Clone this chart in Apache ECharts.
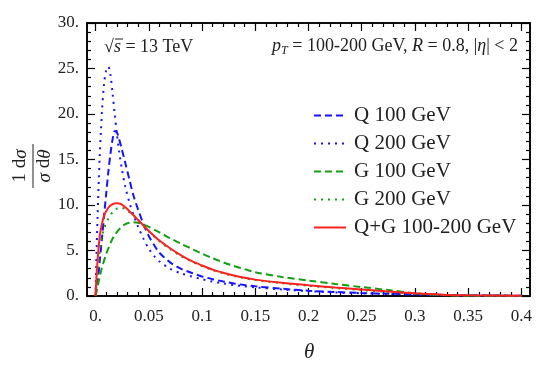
<!DOCTYPE html>
<html>
<head>
<meta charset="utf-8">
<script src="https://cdn.jsdelivr.net/npm/echarts@6/dist/echarts.min.js"></script>
<style>
html,body{margin:0;padding:0;background:#fff;}
#chart{width:540px;height:365px;}
</style>
</head>
<body>
<div id="chart"></div>
<script>
// ---- data ----
var thetaQ100 = [0, 0.002, 0.004, 0.006, 0.008, 0.01, 0.012, 0.014, 0.016, 0.018, 0.02, 0.022, 0.025, 0.028, 0.032, 0.036, 0.04, 0.045, 0.05, 0.055, 0.06, 0.07, 0.08, 0.09, 0.1, 0.11, 0.12, 0.13, 0.14, 0.15, 0.175, 0.2, 0.225, 0.25, 0.275, 0.3, 0.35, 0.4];
var valQ100   = [0, 1.5, 3.9, 6.3, 8.8, 11.2, 13.6, 15.6, 17.2, 18.1, 18.0, 17.3, 16.0, 14.6, 12.7, 10.9, 9.5, 7.9, 6.6, 5.6, 4.75, 3.7, 3.0, 2.55, 2.15, 1.85, 1.6, 1.38, 1.2, 1.06, 0.8, 0.58, 0.44, 0.33, 0.25, 0.18, 0.08, 0.03];

var thetaQ200 = [0, 0.001, 0.002, 0.003, 0.004, 0.005, 0.006, 0.008, 0.01, 0.012, 0.014, 0.016, 0.018, 0.02, 0.022, 0.025, 0.028, 0.032, 0.036, 0.04, 0.045, 0.05, 0.055, 0.06, 0.07, 0.08, 0.09, 0.1, 0.11, 0.12, 0.13, 0.14, 0.15, 0.175, 0.2, 0.225, 0.25, 0.275, 0.3, 0.35, 0.4];
var valQ200   = [0, 5, 9, 12.5, 15.5, 18, 20.2, 23.3, 24.8, 25.2, 24.3, 22.3, 20.0, 17.9, 16.0, 13.8, 12.0, 10.2, 8.8, 7.6, 6.3, 5.2, 4.4, 3.8, 3.0, 2.5, 2.15, 1.85, 1.58, 1.38, 1.2, 1.06, 0.95, 0.72, 0.53, 0.4, 0.3, 0.22, 0.16, 0.07, 0.03];

var thetaG100 = [0, 0.003, 0.006, 0.01, 0.014, 0.018, 0.022, 0.026, 0.03, 0.035, 0.04, 0.045, 0.05, 0.06, 0.07, 0.08, 0.09, 0.1, 0.11, 0.12, 0.13, 0.14, 0.15, 0.175, 0.2, 0.225, 0.25, 0.275, 0.3, 0.325, 0.35, 0.4];
var valG100   = [0, 1.6, 3.1, 4.6, 5.8, 6.7, 7.3, 7.75, 8.0, 8.1, 8.05, 7.85, 7.6, 7.0, 6.35, 5.75, 5.2, 4.65, 4.15, 3.7, 3.3, 2.95, 2.62, 2.1, 1.7, 1.32, 0.98, 0.65, 0.3, 0.1, 0.04, 0.01];

var thetaG200 = [0, 0.002, 0.004, 0.006, 0.008, 0.012, 0.016, 0.02, 0.024, 0.028, 0.032, 0.036, 0.04, 0.045, 0.05, 0.06, 0.07, 0.08, 0.09, 0.1, 0.11, 0.12, 0.13, 0.14, 0.15, 0.175, 0.2, 0.225, 0.25, 0.275, 0.3, 0.325, 0.35, 0.4];
var valG200   = [0, 2.6, 5.0, 6.5, 7.4, 8.5, 9.2, 9.6, 9.7, 9.55, 9.2, 8.8, 8.3, 7.7, 7.1, 6.0, 5.15, 4.4, 3.8, 3.3, 2.85, 2.5, 2.2, 1.96, 1.75, 1.4, 1.12, 0.88, 0.65, 0.44, 0.25, 0.11, 0.05, 0.01];

var thetaQG = [0, 0.001, 0.002, 0.004, 0.006, 0.008, 0.012, 0.016, 0.02, 0.024, 0.028, 0.032, 0.036, 0.04, 0.045, 0.05, 0.06, 0.07, 0.08, 0.09, 0.1, 0.11, 0.12, 0.13, 0.14, 0.15, 0.175, 0.2, 0.225, 0.25, 0.275, 0.3, 0.325, 0.35, 0.4];
var valQG   = [0, 2.3, 4.0, 6.6, 7.9, 8.8, 9.7, 10.1, 10.2, 10.1, 9.75, 9.3, 8.85, 8.35, 7.75, 7.15, 6.1, 5.25, 4.5, 3.85, 3.35, 2.9, 2.55, 2.25, 2.0, 1.8, 1.45, 1.18, 0.94, 0.72, 0.5, 0.3, 0.15, 0.07, 0.02];

var seriesNames = ['Q 100 GeV', 'Q 200 GeV', 'G 100 GeV', 'G 200 GeV', 'Q+G 100-200 GeV'];
var xTickValues = [0, 0.05, 0.1, 0.15, 0.2, 0.25, 0.3, 0.35, 0.4];
var xTickLabels = ['0.', '0.05', '0.1', '0.15', '0.2', '0.25', '0.3', '0.35', '0.4'];
var yTickValues = [0, 5, 10, 15, 20, 25, 30];
var yTickLabels = ['0.', '5.', '10.', '15.', '20.', '25.', '30.'];

function pairs(xs, ys) { return xs.map(function (x, i) { return [x, ys[i]]; }); }

var xMinor = [];
for (var k = 0; k <= 40; k++) { if (k % 5 !== 0) xMinor.push(k / 100); }
var yMinor = [];
for (var j = 0; j <= 30; j++) { if (j % 5 !== 0) yMinor.push(j); }

var FONT = 'Liberation Serif';
var BLUE = '#1414ff', GREEN = '#12a012', RED = '#ff2020';
var XMIN = -0.008, XMAX = 0.408;

function xAx(pos, vals, major, showLabel) {
  return {
    type: 'value', position: pos, min: XMIN, max: XMAX,
    axisLine: { show: true, onZero: false, lineStyle: { color: '#000', width: 1.6 } },
    axisTick: { show: true, inside: true, length: major ? 8 : 4, customValues: vals, lineStyle: { color: '#000', width: 1.2 } },
    axisLabel: showLabel ? {
      show: true, customValues: xTickValues, margin: 12,
      formatter: function (v) { var i = xTickValues.findIndex(function (t) { return Math.abs(t - v) < 1e-9; }); return i >= 0 ? xTickLabels[i] : ''; },
      fontFamily: FONT, fontSize: 17, color: '#222'
    } : { show: false },
    splitLine: { show: false }
  };
}
function yAx(pos, vals, major, showLabel) {
  return {
    type: 'value', position: pos, min: 0, max: 30,
    axisLine: { show: true, onZero: false, lineStyle: { color: '#000', width: 1.6 } },
    axisTick: { show: true, inside: true, length: major ? 8 : 4, customValues: vals, lineStyle: { color: '#000', width: 1.2 } },
    axisLabel: showLabel ? {
      show: true, customValues: yTickValues, margin: 8,
      formatter: function (v) { var i = yTickValues.indexOf(Math.round(v)); return i >= 0 ? yTickLabels[i] : ''; },
      fontFamily: FONT, fontSize: 17, color: '#222'
    } : { show: false },
    splitLine: { show: false }
  };
}

var chart = echarts.init(document.getElementById('chart'), null, { renderer: 'canvas' });

function ser(name, xs, ys, color, type) {
  return {
    name: name, type: 'line', data: pairs(xs, ys), symbol: 'none', showSymbol: false, smooth: 0.3,
    xAxisIndex: 0, yAxisIndex: 0, z: 3,
    lineStyle: { color: color, width: 2, type: type },
    itemStyle: { color: color }
  };
}

var option = {
  backgroundColor: '#fff',
  animation: false,
  grid: { left: 87, right: 10, top: 23, bottom: 69, containLabel: false },
  xAxis: [
    xAx('bottom', xTickValues, true, true),
    xAx('bottom', xMinor, false, false),
    xAx('top', xTickValues, true, false),
    xAx('top', xMinor, false, false)
  ],
  yAxis: [
    yAx('left', yTickValues, true, true),
    yAx('left', yMinor, false, false),
    yAx('right', yTickValues, true, false),
    yAx('right', yMinor, false, false)
  ],
  legend: {
    show: true,
    orient: 'vertical', left: 308, top: 100, itemWidth: 32, itemHeight: 14, itemGap: 7,
    itemStyle: { opacity: 0 },
    textStyle: { fontFamily: FONT, fontSize: 21, color: '#222', padding: [0, 0, 0, 3] },
    data: seriesNames
  },
  series: [
    ser(seriesNames[0], thetaQ100, valQ100, BLUE, [7, 4]),
    ser(seriesNames[1], thetaQ200, valQ200, BLUE, [2, 5]),
    ser(seriesNames[2], thetaG100, valG100, GREEN, [7, 4]),
    ser(seriesNames[3], thetaG200, valG200, GREEN, [2, 5]),
    ser(seriesNames[4], thetaQG, valQG, RED, 'solid')
  ],
  graphic: [
    {
      type: 'text', left: 104, top: 38,
      style: {
        text: '{r|√}{o|s}{n| = 13 TeV}',
        rich: {
          r: { fontFamily: FONT, fontSize: 18, fill: '#222' },
          o: { fontFamily: FONT, fontSize: 18, fontStyle: 'italic', fill: '#222' },
          n: { fontFamily: FONT, fontSize: 18, fill: '#222' }
        }
      }
    },
    { type: 'line', shape: { x1: 115, y1: 39, x2: 123, y2: 39 }, style: { stroke: '#222', lineWidth: 1 } },
    {
      type: 'text', right: 22, top: 37,
      style: {
        text: '{i|p}{s|T}{n| = 100-200 GeV, }{i|R}{n| = 0.8, |}{i|η}{n|| < 2}',
        rich: {
          i: { fontFamily: FONT, fontSize: 18, fontStyle: 'italic', fill: '#222' },
          s: { fontFamily: FONT, fontSize: 12, fontStyle: 'italic', fill: '#222', padding: [9, 0, 0, 0] },
          n: { fontFamily: FONT, fontSize: 18, fill: '#222' }
        }
      }
    },
    {
      type: 'group', x: 33, y: 166, rotation: Math.PI / 2,
      children: [
        { type: 'text', x: 0, y: -3, style: {
            text: '{n|1 d}{i|σ}', align: 'center', verticalAlign: 'bottom',
            rich: { n: { fontFamily: FONT, fontSize: 19, fill: '#222' }, i: { fontFamily: FONT, fontSize: 19, fontStyle: 'italic', fill: '#222' } } } },
        { type: 'line', shape: { x1: -22, y1: 0, x2: 22, y2: 0 }, style: { stroke: '#222', lineWidth: 1 } },
        { type: 'text', x: 0, y: 2, style: {
            text: '{i|σ}{n| d}{i|θ}', align: 'center', verticalAlign: 'top',
            rich: { n: { fontFamily: FONT, fontSize: 19, fill: '#222' }, i: { fontFamily: FONT, fontSize: 19, fontStyle: 'italic', fill: '#222' } } } }
      ]
    },
    { type: 'text', left: 304, top: 342, style: { text: 'θ', fontFamily: FONT, fontSize: 21, fontStyle: 'italic', fill: '#222' } }
  ]
};
chart.setOption(option);
</script>
</body>
</html>
